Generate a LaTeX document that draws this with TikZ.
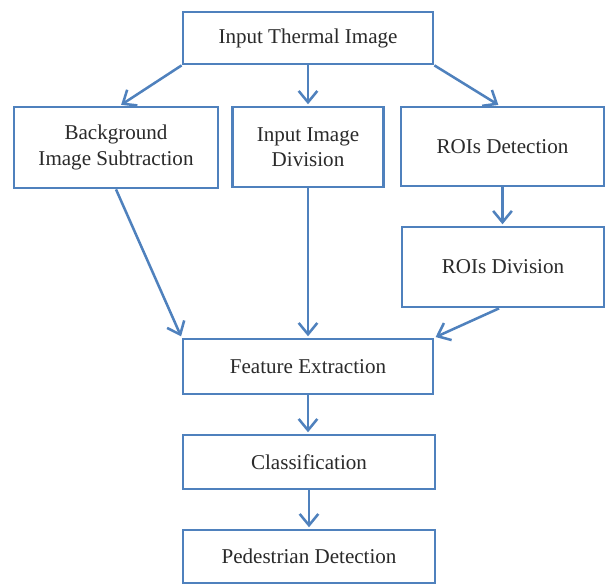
\documentclass[tikz,border=0pt]{standalone}
\usepackage{fontspec}
\setmainfont{Liberation Serif}
\usetikzlibrary{arrows.meta,calc}
\definecolor{boxblue}{HTML}{4F81BD}
\definecolor{txtgray}{HTML}{2A2A2A}
\tikzset{
  flowbox/.style={draw=boxblue, line width=2.1pt, fill=white, align=center,
    text=txtgray, inner sep=0pt, font=\fontsize{15.8}{19}\selectfont},
  flowarrow/.style={draw=boxblue, line width=1.9pt,
    -{Straight Barb[length=8.5pt,width=14pt,line width=1.9pt]}, shorten >=1pt}
}
\begin{document}
\begin{tikzpicture}[x=0.75pt,y=-0.75pt]
\useasboundingbox (0,0) rectangle (606,584);
\node[flowbox, minimum width=187.5pt, minimum height=39pt] (top) at (308,38) {Input Thermal Image};
\node[flowbox, minimum width=153pt, minimum height=60.75pt] (bg) at (116,147.5) {Background\\Image Subtraction};
\node[flowbox, minimum width=113.25pt, minimum height=60pt] (iid) at (308,147) {Input Image\\Division};
\node[flowbox, minimum width=152.25pt, minimum height=59.25pt] (rod) at (502.5,146.5) {ROIs Detection};
\node[flowbox, minimum width=151.5pt, minimum height=60pt] (rodiv) at (503,267) {ROIs Division};
\node[flowbox, minimum width=187.5pt, minimum height=41.25pt] (fe) at (308,366.5) {Feature Extraction};
\node[flowbox, minimum width=189pt, minimum height=40.5pt] (cls) at (309,462) {Classification};
\node[flowbox, minimum width=189pt, minimum height=39.75pt] (ped) at (309,556.5) {Pedestrian Detection};
\draw[flowarrow] (top.south west) -- ($(bg.north)+(4,0)$);
\draw[flowarrow] (iid.north |- top.south) -- (iid.north);
\draw[flowarrow] (top.south east) -- ($(rod.north)+(-3,0)$);
\draw[flowarrow] (rod.south) -- (rod.south |- rodiv.north);
\draw[flowarrow] (bg.south) -- (fe.north west);
\draw[flowarrow] (iid.south) -- (iid.south |- fe.north);
\draw[flowarrow] ($(rodiv.south)+(-4,0)$) -- (fe.north east);
\draw[flowarrow] (fe.south) -- (fe.south |- cls.north);
\draw[flowarrow] (cls.south) -- (cls.south |- ped.north);
\end{tikzpicture}
\end{document}
